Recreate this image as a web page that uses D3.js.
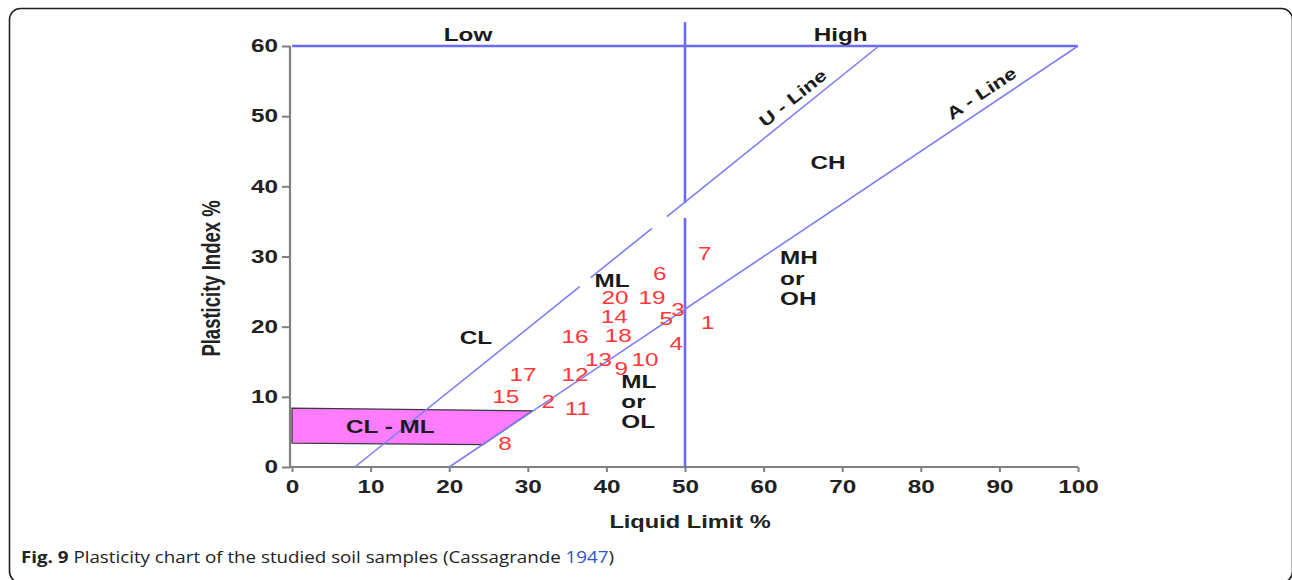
<!DOCTYPE html>
<html>
<head>
<meta charset="utf-8">
<script src="https://cdn.jsdelivr.net/npm/d3@7/dist/d3.min.js"></script>
<style>
  html, body { margin: 0; padding: 0; background: #fff; }
  svg { display: block; }
</style>
</head>
<body>
<svg id="chart" width="1292" height="580"></svg>
<script>
// Axis ticks
const xTicks = [0, 10, 20, 30, 40, 50, 60, 70, 80, 90, 100];
const yTicks = [0, 10, 20, 30, 40, 50, 60];

// Soil samples: liquid limit (LL, %) and plasticity index (PI, %)
const sampleIds = ["1","2","3","4","5","6","7","8","9","10","11","12","13","14","15","16","17","18","19","20"];
const sampleLL  = [52.9, 32.6, 49.1, 48.9, 47.6, 46.8, 52.5, 27.1, 41.9, 44.9, 36.3, 36.0, 39.0, 41.0, 27.2, 36.0, 29.4, 41.5, 45.8, 41.1];
const samplePI  = [20.6,  9.3, 22.5, 17.6, 21.2, 27.6, 30.4,  3.4, 14.0, 15.3,  8.4, 13.2, 15.3, 21.4, 10.0, 18.6, 13.2, 18.8, 24.2, 24.1];

// Classification boundaries (LL, PI end points)
const uLineSegments = [[[8, 0], [36.6, 25.7]], [[38.0, 27.0], [45.8, 34.0]], [[47.7, 35.7], [74.67, 60]]];
const aLine = [[20, 0], [100, 60]];
const topLine = [[0, 60], [100, 60]];
const llDivider = [[[50, 63.4], [50, 37.6]], [[50, 35.5], [50, 0]]];
const clmlZone = [[0, 8.4], [30.6, 8.0], [24.3, 3.2], [0, 3.4]];

// Zone labels
const zoneText = ["Low", "High", "CH", "CL", "CL - ML"];
const zoneLL   = [22.4, 69.8, 68.2, 23.4, 12.5];
const zonePI   = [61.7, 61.7, 43.4, 18.4, 5.8];
const stackText = [["ML"], ["ML", "or", "OL"], ["MH", "or", "OH"]];
const stackLL   = [38.5, 41.9, 62.1];
const stackPI   = [26.6, 12.2, 29.8];
const lineText  = ["U - Line", "A - Line"];
const lineLL    = [63.7, 87.7];
const linePI    = [52.6, 53.3];
const lineSlope = [0.9, 0.75];

const svg = d3.select("#chart");
const SX = 1.35; // horizontal stretch of the lettering

// Outer figure frame
svg.append("rect")
  .attr("x", 9.5).attr("y", 8.5)
  .attr("width", 1283).attr("height", 574)
  .attr("rx", 11).attr("ry", 11)
  .attr("fill", "none").attr("stroke", "#222").attr("stroke-width", 1.6);

const x = d3.scaleLinear().domain([0, 100]).range([292, 1078]);
const y = d3.scaleLinear().domain([0, 60]).range([467, 46]);

const font = "'Liberation Sans', Arial, sans-serif";
const axisGrey = "#808080";
const blue = "#6a6af2";
const blueLight = "#7d7df6";

// Horizontal label with stretched lettering, anchored at (px, py)
function label(px, py, txt, opts) {
  const g = svg.append("g").attr("transform", `translate(${px},${py}) scale(${SX},1)`);
  return g.append("text")
    .attr("dy", "0.36em")
    .attr("text-anchor", opts.anchor || "middle")
    .attr("font-family", font)
    .attr("font-weight", opts.bold ? "bold" : "normal")
    .attr("font-size", opts.size)
    .attr("fill", opts.fill)
    .text(txt);
}

// Axes
const yAxis = svg.append("g")
  .attr("transform", `translate(290,0)`)
  .call(d3.axisLeft(y).tickValues(yTicks).tickSize(8).tickPadding(4).tickFormat(d3.format("d")));
yAxis.select(".domain").attr("stroke", axisGrey).attr("stroke-width", 2.2).attr("d", `M0,${y(60)}V${y(0)}`);
yAxis.selectAll(".tick line").attr("stroke", axisGrey).attr("stroke-width", 2);
yAxis.selectAll(".tick text")
  .attr("x", -12 / SX)
  .attr("transform", `scale(${SX},1)`)
  .attr("font-family", font).attr("font-weight", "bold").attr("font-size", 18).attr("fill", "#222");

const xAxis = svg.append("g")
  .attr("transform", `translate(0,${y(0)})`)
  .call(d3.axisBottom(x).tickValues(xTicks).tickSize(5).tickPadding(8).tickFormat(d3.format("d")));
xAxis.select(".domain").attr("stroke", axisGrey).attr("stroke-width", 2.2).attr("d", `M290,0H${x(100)}`);
xAxis.selectAll(".tick line").attr("stroke", axisGrey).attr("stroke-width", 2);
xAxis.selectAll(".tick text")
  .attr("transform", `scale(${SX},1)`)
  .attr("font-family", font).attr("font-weight", "bold").attr("font-size", 18).attr("fill", "#222");

// Axis titles
label(690, 522, "Liquid Limit %", { size: 17.5, bold: true, fill: "#222" });
svg.append("g")
  .attr("transform", `translate(211,${(y(0) + y(60)) / 2 + 22}) scale(${SX},1) rotate(-90)`)
  .append("text")
  .attr("dy", "0.36em").attr("text-anchor", "middle")
  .attr("font-family", font).attr("font-weight", "bold").attr("font-size", 18.5).attr("fill", "#222")
  .text("Plasticity Index %");

const line = d3.line().x(d => x(d[0])).y(d => y(d[1]));

// CL-ML zone
svg.append("path")
  .attr("d", line(clmlZone) + "Z")
  .attr("fill", "#ff7cff").attr("stroke", "#3a3a3a").attr("stroke-width", 1.3);

// Boundary lines
svg.append("path").attr("d", line(topLine))
  .attr("stroke", blue).attr("stroke-width", 2.4).attr("fill", "none");
llDivider.forEach(seg => svg.append("path").attr("d", line(seg))
  .attr("stroke", blue).attr("stroke-width", 2.6).attr("fill", "none"));
uLineSegments.forEach(seg => svg.append("path").attr("d", line(seg))
  .attr("stroke", blueLight).attr("stroke-width", 1.6).attr("fill", "none"));
svg.append("path").attr("d", line(aLine))
  .attr("stroke", blueLight).attr("stroke-width", 1.6).attr("fill", "none");

// Zone labels
zoneText.forEach((t, i) => label(x(zoneLL[i]), y(zonePI[i]), t, { size: 18, bold: true, fill: "#1a1a1a" }));
stackText.forEach((lines, i) => {
  lines.forEach((s, j) => label(x(stackLL[i]), y(stackPI[i]) + j * 20.3, s,
    { size: 18, bold: true, fill: "#1a1a1a", anchor: "start" }));
});
// Boundary names, running along their lines
lineText.forEach((t, i) => {
  const ang = -Math.atan(lineSlope[i] * (y(0) - y(1)) / (x(1) - x(0))) * 180 / Math.PI;
  svg.append("g")
    .attr("transform", `translate(${x(lineLL[i])},${y(linePI[i])}) rotate(${ang}) scale(1.3,1)`)
    .append("text")
    .attr("dy", "0.36em").attr("text-anchor", "middle")
    .attr("font-family", font).attr("font-weight", "bold").attr("font-size", 17).attr("fill", "#1a1a1a")
    .text(t);
});

// Sample numbers
sampleIds.forEach((id, i) => label(x(sampleLL[i]), y(samplePI[i]), id, { size: 18, fill: "#ff3838" }));

// Caption
const cap = svg.append("text")
  .attr("x", 21).attr("y", 563)
  .attr("font-family", "'Open Sans', 'Noto Sans', sans-serif").attr("font-size", 16).attr("fill", "#222");
cap.append("tspan").attr("font-weight", "bold").text("Fig. 9");
cap.append("tspan").text(" Plasticity chart of the studied soil samples (Cassagrande ");
cap.append("tspan").attr("fill", "#2a55cc").text("1947");
cap.append("tspan").text(")");
cap.attr("textLength", 593).attr("lengthAdjust", "spacingAndGlyphs");
</script>
</body>
</html>
